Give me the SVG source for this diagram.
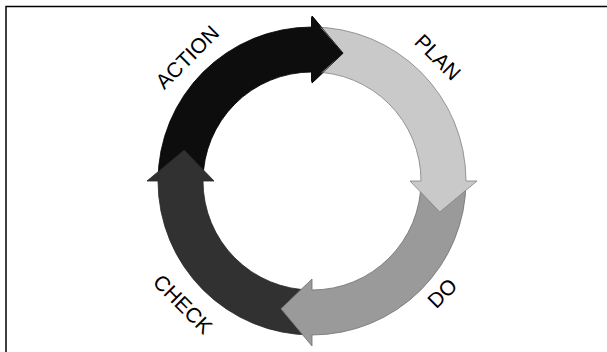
<svg xmlns="http://www.w3.org/2000/svg" width="607" height="352" viewBox="0 0 607 352">
<style>
.lbl{font-family:"Liberation Sans",Arial,sans-serif;font-size:21px;fill:#000;text-anchor:middle}
.arr{stroke-width:0.8;stroke-linejoin:miter}
</style>
<rect x="0" y="0" width="607" height="352" fill="#fff"/>
<rect x="6" y="6.5" width="700" height="400" fill="#fff" stroke="#000" stroke-width="1.5"/>
<g id="connectors"></g>
<g id="action">
<path class="arr" fill="#0d0d0d" stroke="#000" d="M158,181 A154,154 0 0 1 312,27 L312,16 L343.1,53.2 L312,83 L312,72 A109,109 0 0 0 203,181 Z"/>
<text class="lbl" transform="translate(187,57) rotate(-45)" y="7.5">ACTION</text>
</g>
<g id="check">
<path class="arr" fill="#313131" stroke="#262626" d="M312,335 A154,154 0 0 1 158,181 L147,181 L184.2,149.9 L214,181 L203,181 A109,109 0 0 0 312,290 Z"/>
<text class="lbl" transform="translate(183,304) rotate(45)" y="7.5">CHECK</text>
</g>
<g id="do">
<path class="arr" fill="#9a9a9a" stroke="#6e6e6e" d="M466,181 A154,154 0 0 1 312,335 L312,346 L280.9,308.8 L312,279 L312,290 A109,109 0 0 0 421,181 Z"/>
<text class="lbl" transform="translate(442,293) rotate(-45)" y="7.5">DO</text>
</g>
<g id="plan">
<path class="arr" fill="#c9c9c9" stroke="#808080" d="M312,27 A154,154 0 0 1 466,181 L477,181 L439.8,212.1 L410,181 L421,181 A109,109 0 0 0 312,72 Z"/>
<text class="lbl" transform="translate(438,57) rotate(45)" y="7.5">PLAN</text>
</g>
<g id="action-head">
<path fill="#0d0d0d" stroke="none" d="M311,20 L311,16.5 L343.1,53.2 L311,82 Z"/>
<path fill="none" stroke="#000" stroke-width="0.8" d="M312,16 L343.1,53.2 L312,83"/>
</g>
</svg>
